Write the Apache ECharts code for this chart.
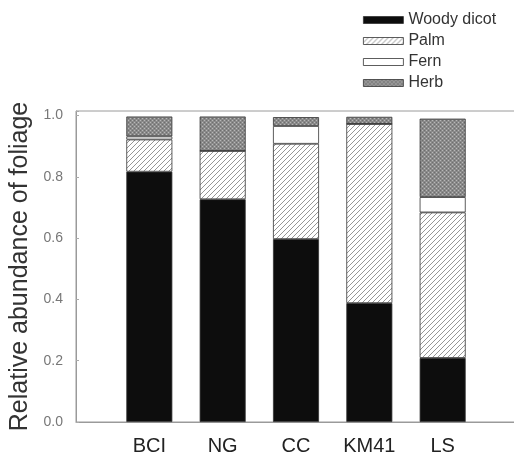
<!DOCTYPE html>
<html>
<head>
<meta charset="utf-8">
<script src="https://cdn.jsdelivr.net/npm/echarts@6/dist/echarts.min.js"></script>
<style>html,body{margin:0;padding:0;background:#fff;}#c{width:514px;height:457px;}</style>
</head>
<body>
<div id="c"></div>
<script>
// Data
var categories = ['BCI', 'NG', 'CC', 'KM41', 'LS'];
var woody = [0.817, 0.727, 0.597, 0.388, 0.209];
var palm  = [0.105, 0.158, 0.311, 0.585, 0.475];
var fern  = [0.010, 0.000, 0.058, 0.000, 0.050];
var herb  = [0.065, 0.112, 0.029, 0.023, 0.256];
var yTicks = [0, 0.2, 0.4, 0.6, 0.8, 1.0];

function pad(arr, fill) { return [fill].concat(arr, [fill]); }

function hatchPattern() {
  var c = document.createElement('canvas');
  c.width = 5; c.height = 5;
  var g = c.getContext('2d');
  g.fillStyle = '#ffffff'; g.fillRect(0, 0, 5, 5);
  g.strokeStyle = '#8a8a8a'; g.lineWidth = 0.9;
  g.beginPath();
  g.moveTo(-1, 6); g.lineTo(6, -1);
  g.moveTo(-1, 1); g.lineTo(1, -1);
  g.moveTo(4, 6); g.lineTo(6, 4);
  g.stroke();
  return c;
}
function stipplePattern() {
  var c = document.createElement('canvas');
  c.width = 4; c.height = 4;
  var g = c.getContext('2d');
  g.fillStyle = '#8a8a8a'; g.fillRect(0, 0, 4, 4);
  g.fillStyle = '#b8b8b8';
  g.fillRect(0, 0, 1, 1); g.fillRect(2, 2, 1, 1);
  g.fillStyle = '#6e6e6e';
  g.fillRect(2, 0, 1, 1); g.fillRect(0, 2, 1, 1);
  return c;
}

var chart = echarts.init(document.getElementById('c'), null, {renderer: 'canvas'});
var border = {borderColor: '#333', borderWidth: 0.8};
function mk(name, data, color) {
  return {
    name: name, type: 'bar', stack: 'all', data: pad(data, null), barWidth: 46,
    itemStyle: Object.assign({color: color}, border),
    emphasis: {disabled: true}
  };
}
chart.setOption({
  animation: false,
  legend: {
    orient: 'vertical', left: 358, top: 7,
    icon: 'rect',
    itemWidth: 40, itemHeight: 7, itemGap: 5,
    itemStyle: {borderWidth: 0.8, borderColor: '#333'},
    textStyle: {fontFamily: 'Liberation Sans, Arial, sans-serif', fontSize: 16, color: '#333'},
    data: ['Woody dicot', 'Palm', 'Fern', 'Herb']
  },
  grid: {left: 76, right: -2, top: 111, bottom: 35, show: true, borderColor: '#9a9a9a', borderWidth: 1,
         containLabel: false, outerBoundsMode: 'none'},
  xAxis: {
    type: 'category', boundaryGap: false, data: pad(categories, ''),
    axisLine: {lineStyle: {color: '#9a9a9a'}},
    axisTick: {show: false},
    axisLabel: {fontFamily: 'Liberation Sans, Arial, sans-serif', fontSize: 20, color: '#222', margin: 14, interval: 0}
  },
  yAxis: {
    type: 'value', min: 0, max: 1.015, interval: 0.2,
    name: 'Relative abundance of foliage', nameLocation: 'middle', nameGap: 43,
    nameTextStyle: {fontFamily: 'Liberation Sans, Arial, sans-serif', fontSize: 25, color: '#333'},
    axisLine: {show: true, lineStyle: {color: '#9a9a9a'}},
    axisTick: {show: true, inside: true, length: 3, lineStyle: {color: '#aaa'}},
    splitLine: {show: false},
    axisLabel: {
      fontFamily: 'Liberation Sans, Arial, sans-serif', fontSize: 14, color: '#777', margin: 13,
      formatter: function (v) {
        for (var i = 0; i < yTicks.length; i++) if (Math.abs(v - yTicks[i]) < 1e-6) return yTicks[i].toFixed(1);
        return '';
      }
    }
  },
  series: [
    mk('Woody dicot', woody, '#0d0d0d'),
    mk('Palm', palm, {image: hatchPattern(), repeat: 'repeat'}),
    mk('Fern', fern, '#ffffff'),
    mk('Herb', herb, {image: stipplePattern(), repeat: 'repeat'})
  ]
});
</script>
</body>
</html>
